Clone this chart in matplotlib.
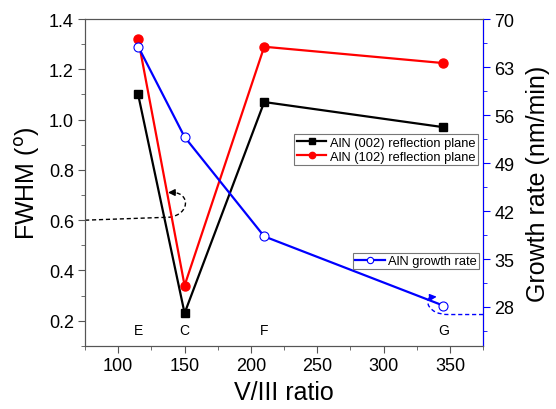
import matplotlib
matplotlib.use("Agg")
import matplotlib.pyplot as plt
from matplotlib.path import Path
from matplotlib.patches import PathPatch
from matplotlib.ticker import MultipleLocator

plt.rcParams["font.family"] = ["Liberation Sans", "DejaVu Sans"]

# data
ratio = [115, 150, 210, 345]
samples = ["E", "C", "F", "G"]
fwhm_002 = [1.10, 0.23, 1.07, 0.97]
fwhm_102 = [1.32, 0.34, 1.29, 1.225]
growth = [66.0, 52.8, 38.3, 28.2]

fig = plt.figure(figsize=(5.56, 4.10), dpi=100)
ax = fig.add_axes([0.153, 0.154, 0.716, 0.797])
ax2 = ax.twinx()

l1, = ax.plot(ratio, fwhm_002, "k-", marker="s", ms=6, lw=1.6,
              label="AlN (002) reflection plane")
l2, = ax.plot(ratio, fwhm_102, "-", color="red", marker="o", ms=6.5, lw=1.6,
              label="AlN (102) reflection plane")
l3, = ax2.plot(ratio, growth, "-", color="blue", marker="o", ms=6.5, lw=1.6,
               mfc="white", mec="blue", mew=0.8, label="AlN growth rate")

for x1, s1 in zip(ratio, samples):
    ax.text(x1, 0.165, s1, ha="center", va="center", fontsize=10)

ax.set_xlim(75, 375)
ax.set_ylim(0.1, 1.4)
ax2.set_ylim(22.33, 70)
ax.xaxis.set_major_locator(MultipleLocator(50))
ax.xaxis.set_minor_locator(MultipleLocator(25))
ax.yaxis.set_major_locator(MultipleLocator(0.2))
ax.yaxis.set_minor_locator(MultipleLocator(0.1))
ax2.yaxis.set_major_locator(MultipleLocator(7))
ax2.yaxis.set_minor_locator(MultipleLocator(3.5))

gray = "#555555"
for sp in ["left", "bottom", "top"]:
    ax.spines[sp].set_color(gray)
    ax2.spines[sp].set_color(gray)
ax2.spines["right"].set_color("blue")
ax.tick_params(axis="both", which="major", direction="out", length=5,
               color=gray, labelsize=13, pad=3)
ax.tick_params(axis="both", which="minor", direction="out", length=3, color=gray)
ax2.tick_params(axis="y", which="major", direction="out", length=5,
                color="blue", labelsize=13, pad=3)
ax2.tick_params(axis="y", which="minor", direction="out", length=3, color="blue")

ax.set_xlabel("V/III ratio", fontsize=18, labelpad=4)
ax.set_ylabel(r"FWHM ($^{\rm o}$)", fontsize=18, labelpad=5)
ax2.set_ylabel("Growth rate (nm/min)", fontsize=18, labelpad=8)

leg1 = ax.legend(handles=[l1, l2], loc="upper right", bbox_to_anchor=(0.988, 0.648),
                 fontsize=9.3, frameon=True, fancybox=False, borderaxespad=0,
                 handlelength=2.3, handletextpad=0.3, borderpad=0.2,
                 labelspacing=0.15, markerscale=0.7)
leg1.get_frame().set_edgecolor(gray)
leg1.get_frame().set_linewidth(0.8)
leg2 = ax2.legend(handles=[l3], loc="upper right", bbox_to_anchor=(0.99, 0.283),
                  fontsize=9.3, frameon=True, fancybox=False, borderaxespad=0,
                  handlelength=2.3, handletextpad=0.3, borderpad=0.15,
                  markerscale=0.7)
leg2.get_frame().set_edgecolor(gray)
leg2.get_frame().set_linewidth(0.8)

# curved dashed arrows pointing from curves to their axes
p1 = Path([(75, 0.6), (139, 0.612), (154, 0.625), (154, 0.705), (142, 0.71)],
          [Path.MOVETO, Path.LINETO, Path.CURVE4, Path.CURVE4, Path.CURVE4])
ax.add_patch(PathPatch(p1, fill=False, ls=(0, (3, 2)), lw=1.0, color="k",
                       clip_on=False))
ax.annotate("", xy=(137.5, 0.71), xytext=(143, 0.71),
            arrowprops=dict(arrowstyle="-|>", color="k", lw=1.0,
                            mutation_scale=10, shrinkA=0, shrinkB=0))

p2 = Path([(375, 26.9), (349, 26.9), (333, 26.9), (331, 29.0), (335, 29.4)],
          [Path.MOVETO, Path.LINETO, Path.CURVE4, Path.CURVE4, Path.CURVE4])
ax2.add_patch(PathPatch(p2, fill=False, ls=(0, (3, 2)), lw=1.0, color="blue",
                        clip_on=False))
ax2.annotate("", xy=(340, 29.5), xytext=(334.5, 29.4),
             arrowprops=dict(arrowstyle="-|>", color="blue", lw=1.0,
                             mutation_scale=10, shrinkA=0, shrinkB=0))

fig.savefig("out.png", dpi=100)
plt.close(fig)
